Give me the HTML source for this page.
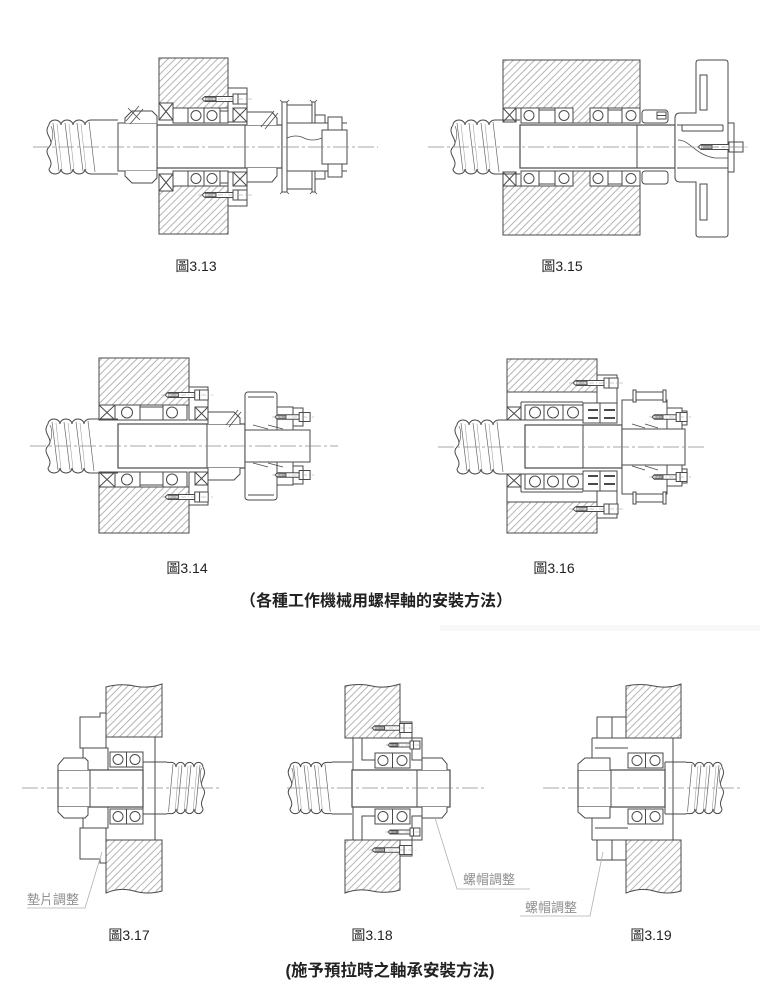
<!DOCTYPE html>
<html><head><meta charset="utf-8">
<style>
html,body{margin:0;padding:0;background:#fff;}
svg{display:block}
text{font-family:"Liberation Sans","Noto Sans CJK TC","Noto Sans CJK SC",sans-serif;}
.cl{stroke:#8a8a8a;stroke-width:.8;stroke-dasharray:16 3 3 3;fill:none}
.ld{stroke:#b0b0b0;stroke-width:.8;fill:none}
</style></head><body>
<svg width="763" height="999" viewBox="0 0 763 999" xmlns="http://www.w3.org/2000/svg">
<defs>
<pattern id="h" width="5" height="5" patternUnits="userSpaceOnUse" patternTransform="rotate(45)">
<line x1="0.5" y1="0" x2="0.5" y2="5" stroke="#8c8c8c" stroke-width="0.65"/>
</pattern>
<g id="bolt" stroke="#4a4a4a" stroke-width="1" fill="#fff">
<path vector-effect="non-scaling-stroke" d="M0,0 L3,-2.5 H31 V2.5 H3 Z"/>
<rect vector-effect="non-scaling-stroke" x="31" y="-5" width="14" height="10"/>
<path vector-effect="non-scaling-stroke" fill="none" d="M36,-5V5 M14,-2.5V2.5 M3,-1.2H14 M3,1.2H14"/>
<path vector-effect="non-scaling-stroke" fill="none" stroke="#999" stroke-width=".6" stroke-dasharray="5 2 1 2" d="M-4,0H50"/>
</g>
<g id="scr" fill="none" stroke="#4a4a4a" stroke-width="1">
<path stroke="none" fill="#fff" d="M0,-22 a6,5 0 0 1 12,0 a6,5 0 0 1 12,0 a6,5 0 0 1 12,0 a6,5 0 0 1 6,-5 H48 V27 H42 a6,5 0 0 1 -6,-5 a6,5 0 0 1 -12,0 a6,5 0 0 1 -12,0 a6,5 0 0 1 -12,0 C7,13 -7,7 0,0 C7,-7 -7,-13 0,-22Z"/>
<path vector-effect="non-scaling-stroke" d="M0,-22 a6,5 0 0 1 12,0 a6,5 0 0 1 12,0 a6,5 0 0 1 12,0 a6,5 0 0 1 6,-5 H48 M0,22 a6,5 0 0 0 12,0 a6,5 0 0 0 12,0 a6,5 0 0 0 12,0 a6,5 0 0 0 6,5 H48 M0,-22 C-7,-13 7,-7 0,0 C-7,7 7,13 0,22"/>
<path vector-effect="non-scaling-stroke" stroke="#666" stroke-width=".7" d="M4,-24 L10,24 M16,-24 L22,24 M28,-24 L34,24 M40,-25 L46,25 M0,0 C4,-6 5,-15 2,-21"/>
<path vector-effect="non-scaling-stroke" stroke="#999" stroke-width=".55" d="M8,-23 L13,23 M20,-23 L25,23 M32,-23 L37,23"/>
</g>
</defs>

<g fill="none" stroke="#4a4a4a" stroke-width="1">

<!-- ========== 3.13 ========== -->
<path fill="url(#h)" d="M159,58H228V108H173V103H159Z"/>
<path fill="url(#h)" d="M159,191H173V186H228V234H159Z"/>
<path fill="#fff" d="M159,103h14v17h-14z l14,17 m0,-17 l-14,17 M159,174h14v17h-14z l14,17 m0,-17 l-14,17"/>
<rect x="173" y="108" width="15" height="15" fill="#fff"/>
<rect x="173" y="171" width="15" height="15" fill="#fff"/>
<rect x="188" y="108" width="16" height="15" fill="#fff"/><rect x="204" y="108" width="16" height="15" fill="#fff"/>
<rect x="188" y="171" width="16" height="15" fill="#fff"/><rect x="204" y="171" width="16" height="15" fill="#fff"/>
<circle cx="196" cy="115.5" r="5"/><circle cx="212" cy="115.5" r="5"/><circle cx="196" cy="178.5" r="5"/><circle cx="212" cy="178.5" r="5"/>
<rect x="220" y="111" width="8" height="12" fill="#fff"/><rect x="220" y="171" width="8" height="12" fill="#fff"/>
<path fill="#fff" d="M228,88H247V108H233V122H228Z M228,206H247V186H233V172H228Z"/>
<path fill="#fff" d="M233,108h14v14h-14z l14,14 m0,-14 l-14,14 M233,172h14v14h-14z l14,14 m0,-14 l-14,14"/>
<use href="#bolt" transform="translate(202,99)"/>
<use href="#bolt" transform="translate(202,195)"/>
<rect x="157" y="125" width="125" height="43" fill="#fff" stroke-width="1.2"/>
<path d="M245,125V168"/>
<rect x="118" y="123" width="39" height="48" fill="#fff"/>
<path fill="#fff" d="M125,123V118L132,111H152L157,116V123 M125,171V176L132,183H152L157,178V171"/>
<path stroke-width=".8" d="M126,121L139,106 M130,124L143,109 M128,108L140,120"/>
<path fill="#fff" d="M247,125V112H272L277,118V125 M247,168V182H272L277,176V168"/>
<path stroke-width=".8" d="M261,127L274,111 M265,129L278,113"/>
<use href="#scr" transform="translate(49,147)"/>
<path d="M97,120H118 M97,174H118"/>
<!-- coupling -->
<rect x="282" y="102" width="5" height="90" fill="#fff"/>
<path stroke-width=".8" d="M280,100L282,102 M289,100L287,102 M280,194L282,192 M289,194L287,192 M310,100L312,102 M317,100L315,102 M310,194L312,192 M317,194L315,192"/>
<path d="M287,105H312 M287,189H312 M287,123H347 M287,171H347"/>
<rect x="312" y="102" width="3" height="21" fill="#fff"/><rect x="312" y="171" width="3" height="21" fill="#fff"/>
<path d="M315,115H325V123 M315,179H325V171"/>
<rect x="328" y="117" width="14" height="60" fill="#fff"/>
<rect x="322" y="130" width="25" height="34" fill="#fff"/>
<path stroke-width=".8" d="M287,138 q9,-4 17,0 t18,0"/>
<path class="cl" d="M33,147H378"/>

<!-- ========== 3.15 ========== -->
<path fill="url(#h)" d="M503,60H640V108H590V123H573V108H503Z"/>
<path fill="url(#h)" d="M503,186H573V171H590V186H640V235H503Z"/>
<path fill="#fff" d="M503,108h13v14h-13z l13,14 m0,-14 l-13,14 M503,172h13v14h-13z l13,14 m0,-14 l-13,14"/>
<g fill="#fff">
<rect x="521" y="108" width="18" height="15"/><rect x="539" y="110" width="16" height="13"/><rect x="555" y="108" width="18" height="15"/>
<rect x="590" y="108" width="18" height="15"/><rect x="608" y="110" width="14" height="13"/><rect x="622" y="108" width="18" height="15"/>
<rect x="521" y="171" width="18" height="15"/><rect x="539" y="171" width="16" height="13"/><rect x="555" y="171" width="18" height="15"/>
<rect x="590" y="171" width="18" height="15"/><rect x="608" y="171" width="14" height="13"/><rect x="622" y="171" width="18" height="15"/>
</g>
<circle cx="529" cy="115.5" r="5"/><circle cx="564" cy="115.5" r="5"/><circle cx="598" cy="115.5" r="5"/><circle cx="631" cy="115.5" r="5"/>
<circle cx="529" cy="178.5" r="5"/><circle cx="564" cy="178.5" r="5"/><circle cx="598" cy="178.5" r="5"/><circle cx="631" cy="178.5" r="5"/>
<rect x="642" y="110" width="26" height="13" rx="3" fill="#fff"/>
<rect x="642" y="171" width="26" height="13" rx="3" fill="#fff"/>
<rect x="657" y="112" width="9" height="7" fill="#fff"/><path d="M657,115.5H666"/>
<rect x="520" y="125" width="155" height="43" fill="#fff" stroke-width="1.2"/>
<path d="M637,125V168"/>
<use href="#scr" transform="translate(453,147)"/>
<path d="M501,120H520 M501,174H520"/>
<!-- handwheel -->
<path fill="#fff" d="M696,63 Q696,60 699,60 H725 Q728,60 728,63 V234 Q728,237 725,237 H699 Q696,237 696,234 V182 H680 Q675,182 675,177 V118 Q675,113 680,113 H696 Z"/>
<rect x="700" y="75" width="7" height="35"/><rect x="700" y="184" width="7" height="36"/>
<path d="M677,125H723 M682,131H723 M682,125V131 M723,125V131 M677,168H728"/>
<path stroke-width=".8" d="M678,140 C690,140 695,155 715,158 H728"/>
<rect x="728" y="123" width="6" height="49" fill="#fff"/>
<use href="#bolt" transform="translate(698,147)"/>
<path class="cl" d="M428,147H747"/>

<!-- ========== 3.14 ========== -->
<path fill="url(#h)" d="M99,358H189V405H99Z"/>
<path fill="url(#h)" d="M99,487H189V533H99Z"/>
<path fill="#fff" d="M99,405h16v15h-16z l16,15 m0,-15 l-16,15 M99,472h16v15h-16z l16,15 m0,-15 l-16,15"/>
<g fill="#fff">
<rect x="115" y="405" width="25" height="15"/><rect x="140" y="407" width="23" height="13"/><rect x="163" y="405" width="24" height="15"/>
<rect x="115" y="472" width="25" height="15"/><rect x="140" y="472" width="23" height="13"/><rect x="163" y="472" width="24" height="15"/>
</g>
<circle cx="127" cy="412.5" r="5.5"/><circle cx="172" cy="412.5" r="5.5"/><circle cx="127" cy="479.5" r="5.5"/><circle cx="172" cy="479.5" r="5.5"/>
<path fill="#fff" d="M189,387H208V420H189Z M189,505H208V472H189Z"/>
<path fill="#fff" d="M195,407h13v13h-13z l13,13 m0,-13 l-13,13 M195,472h13v13h-13z l13,13 m0,-13 l-13,13"/>
<use href="#bolt" transform="translate(165,395) scale(0.96,1)"/>
<use href="#bolt" transform="translate(165,497) scale(0.96,1)"/>
<rect x="118" y="424" width="127" height="44" fill="#fff" stroke-width="1.2"/>
<path d="M207,424V468"/>
<path fill="#fff" d="M208,424V412H234L240,418V424 M208,468V480H234L240,474V468"/>
<path stroke-width=".8" d="M226,425L238,410 M229,427L241,412"/>
<use href="#scr" transform="translate(48,446)"/>
<path d="M96,419H118 M96,473H118"/>
<!-- pulley -->
<rect x="245" y="392" width="32" height="108" rx="3" fill="#fff"/>
<path d="M248,397H274 M248,495H274"/>
<rect x="277" y="407" width="16" height="78" fill="#fff"/>
<rect x="293" y="408" width="10" height="18" fill="#fff"/><rect x="293" y="466" width="10" height="18" fill="#fff"/>
<rect x="245" y="430" width="65" height="32" fill="#fff"/>
<path stroke-width=".8" d="M253,425L268,429 M268,425L283,429 M253,463L268,467 M268,463L283,467"/>
<use href="#bolt" transform="translate(275,417) scale(0.78,0.9)"/>
<use href="#bolt" transform="translate(275,475) scale(0.78,0.9)"/>
<path class="cl" d="M30,446H338"/>

<!-- ========== 3.16 ========== -->
<path fill="url(#h)" d="M507,359H597V392H507Z"/>
<path fill="url(#h)" d="M507,502H597V533H507Z"/>
<path d="M507,392V407 M507,487V502 M521,402H583 M521,492H583 M521,402V420 M521,492V474"/>
<path fill="#fff" d="M507,407h14v13h-14z l14,13 m0,-13 l-14,13 M507,474h14v13h-14z l14,13 m0,-13 l-14,13"/>
<g fill="#fff">
<rect x="525" y="405" width="19" height="15"/><rect x="544" y="405" width="19" height="15"/><rect x="563" y="405" width="20" height="15"/>
<rect x="525" y="474" width="19" height="15"/><rect x="544" y="474" width="19" height="15"/><rect x="563" y="474" width="20" height="15"/>
</g>
<circle cx="535" cy="412.5" r="5.5"/><circle cx="553" cy="412.5" r="5.5"/><circle cx="573" cy="412.5" r="5.5"/>
<circle cx="535" cy="481.5" r="5.5"/><circle cx="553" cy="481.5" r="5.5"/><circle cx="573" cy="481.5" r="5.5"/>
<rect x="583" y="403" width="17" height="20" fill="#fff"/><rect x="600" y="403" width="17" height="20" fill="#fff"/>
<rect x="583" y="471" width="17" height="20" fill="#fff"/><rect x="600" y="471" width="17" height="20" fill="#fff"/>
<path stroke-width="2" d="M588,410H598 M588,418H598 M604,410H615 M604,418H615 M588,476H598 M588,484H598 M604,476H615 M604,484H615"/>
<rect x="597" y="375" width="20" height="28" fill="#fff"/><rect x="597" y="491" width="20" height="27" fill="#fff"/>
<use href="#bolt" transform="translate(573,383)"/>
<use href="#bolt" transform="translate(573,509)"/>
<rect x="525" y="425" width="97" height="43" fill="#fff" stroke-width="1.2"/>
<path d="M583,425V468"/>
<use href="#scr" transform="translate(457,447)"/>
<path d="M505,420H525 M505,474H525"/>
<!-- pulley -->
<rect x="622" y="400" width="45" height="94" fill="#fff"/>
<rect x="633" y="390" width="3" height="12" fill="#fff"/><rect x="663" y="390" width="3" height="12" fill="#fff"/>
<rect x="633" y="492" width="3" height="12" fill="#fff"/><rect x="663" y="492" width="3" height="12" fill="#fff"/>
<path d="M636,392H663 M636,502H663"/>
<rect x="667" y="408" width="15" height="21" fill="#fff"/><rect x="667" y="465" width="15" height="21" fill="#fff"/>
<rect x="682" y="411" width="5" height="14" fill="#fff"/><rect x="682" y="469" width="5" height="14" fill="#fff"/>
<rect x="622" y="429" width="63" height="36" fill="#fff"/>
<path stroke-width=".8" d="M632,424L645,428 M645,424L658,428 M632,466L645,470 M645,466L658,470"/>
<use href="#bolt" transform="translate(652,417) scale(0.78,0.9)"/>
<use href="#bolt" transform="translate(652,477) scale(0.78,0.9)"/>
<path class="cl" d="M438,447H705"/>

<!-- ========== 3.17 ========== -->
<path fill="url(#h)" d="M106,687 Q120,683 134,686 T162,684 V737 H106 Z"/>
<path fill="url(#h)" d="M106,840 H162 V891 Q148,895 134,891 T106,893 Z"/>
<path d="M155,737V840 M106,737H155 M106,840H155"/>
<path fill="#fff" d="M80,717H100V713H106V748H80Z M80,859H100V863H106V828H80Z"/>
<rect x="83" y="748" width="25" height="22" fill="#fff"/><rect x="83" y="807" width="25" height="21" fill="#fff"/>
<g fill="#fff">
<rect x="110" y="752" width="16.5" height="15"/><rect x="126.5" y="752" width="16.5" height="15"/>
<rect x="110" y="809" width="16.5" height="15"/><rect x="126.5" y="809" width="16.5" height="15"/>
</g>
<circle cx="118" cy="759.5" r="5"/><circle cx="135" cy="759.5" r="5"/><circle cx="118" cy="816.5" r="5"/><circle cx="135" cy="816.5" r="5"/>
<rect x="58" y="770" width="85" height="37" fill="#fff" stroke-width="1.2"/>
<path d="M90,770V807"/>
<path fill="#fff" d="M58,770V765L64,758H85L88,761V770 M58,807V812L64,818H85L88,815V807"/>
<use href="#scr" transform="translate(203,788) scale(-0.75,0.95)"/>
<path d="M143,762H167 M143,814H167 M143,762V814"/>
<path class="cl" d="M22,788H222"/>

<!-- ========== 3.18 ========== -->
<path fill="url(#h)" d="M345,686 Q360,683 372,686 T400,684 V738 H345 Z"/>
<path fill="url(#h)" d="M345,840 H400 V890 Q386,894 372,891 T345,893 Z"/>
<path d="M353,738V840 M362,738V760H375 M362,840V816H375"/>
<rect x="400" y="722" width="12" height="16" fill="#fff"/><rect x="400" y="840" width="12" height="16" fill="#fff"/>
<rect x="412" y="738" width="10" height="22" fill="#fff"/><rect x="412" y="816" width="10" height="24" fill="#fff"/>
<use href="#bolt" transform="translate(372,728) scale(0.89,0.9)"/>
<use href="#bolt" transform="translate(388,745) scale(0.71,0.8)"/>
<use href="#bolt" transform="translate(372,850) scale(0.89,0.9)"/>
<use href="#bolt" transform="translate(388,832) scale(0.71,0.8)"/>
<g fill="#fff">
<rect x="375" y="753" width="17.5" height="15"/><rect x="392.5" y="753" width="17.5" height="15"/>
<rect x="375" y="809" width="17.5" height="15"/><rect x="392.5" y="809" width="17.5" height="15"/>
</g>
<circle cx="383" cy="760.5" r="5"/><circle cx="402" cy="760.5" r="5"/><circle cx="383" cy="816.5" r="5"/><circle cx="402" cy="816.5" r="5"/>
<rect x="352" y="770" width="98" height="37" fill="#fff" stroke-width="1.2"/>
<path d="M417,770V807"/>
<path fill="#fff" d="M422,770V758H442L447,764V770 M422,807V818H442L447,812V807"/>
<use href="#scr" transform="translate(290,788) scale(0.875,0.95)"/>
<path d="M332,762H352 M332,814H352"/>
<path class="cl" d="M287,788H487"/>

<!-- ========== 3.19 ========== -->
<path fill="url(#h)" d="M626,686 Q640,683 654,686 T681,684 V738 H626 Z"/>
<path fill="url(#h)" d="M626,840 H681 V891 Q667,895 654,891 T626,893 Z"/>
<path d="M673,738V840 M592,738H673 M592,840H673 M592,738V760 M592,840V816 M595,748H628 M595,828H628"/>
<rect x="597" y="717" width="29" height="21" fill="#fff"/><path d="M612,717V738"/>
<rect x="597" y="840" width="29" height="20" fill="#fff"/><path d="M612,840V860"/>
<g fill="#fff">
<rect x="628" y="753" width="17.5" height="15"/><rect x="645.5" y="753" width="17.5" height="15"/>
<rect x="628" y="809" width="17.5" height="15"/><rect x="645.5" y="809" width="17.5" height="15"/>
</g>
<circle cx="637" cy="760.5" r="5"/><circle cx="655" cy="760.5" r="5"/><circle cx="637" cy="816.5" r="5"/><circle cx="655" cy="816.5" r="5"/>
<rect x="578" y="770" width="87" height="37" fill="#fff" stroke-width="1.2"/>
<path d="M611,770V807"/>
<path fill="#fff" d="M610,770V758H585L578,764V770 M610,807V818H585L578,812V807"/>
<use href="#scr" transform="translate(722,788) scale(-0.75,0.95)"/>
<path d="M665,762H686 M665,814H686 M665,762V814"/>
<path class="cl" d="M543,788H742"/>
</g>

<!-- leaders -->
<path class="ld" d="M27,908H85L102,852"/>
<path class="ld" d="M435,818L457,889H530"/>
<path class="ld" d="M520,916H590L603,852"/>

<!-- faint smudge -->
<rect x="440" y="625" width="320" height="6" fill="#f8f8f8"/>

<!-- captions -->
<g fill="#222" font-size="14" text-anchor="middle">
<text x="196" y="271">圖3.13</text>
<text x="562" y="271">圖3.15</text>
<text x="187" y="573">圖3.14</text>
<text x="554" y="573">圖3.16</text>
<text x="129" y="940">圖3.17</text>
<text x="372" y="940">圖3.18</text>
<text x="651" y="940">圖3.19</text>
</g>
<g fill="#909090" font-size="13">
<text x="27" y="904">墊片調整</text>
<text x="463" y="884">螺帽調整</text>
<text x="525" y="912">螺帽調整</text>
</g>
<text x="376" y="606" text-anchor="middle" font-size="16" font-weight="bold" fill="#222">（各種工作機械用螺桿軸的安裝方法）</text>
<text x="390" y="976" text-anchor="middle" font-size="16.5" font-weight="bold" fill="#222">(施予預拉時之軸承安裝方法)</text>
</svg>
</body></html>
